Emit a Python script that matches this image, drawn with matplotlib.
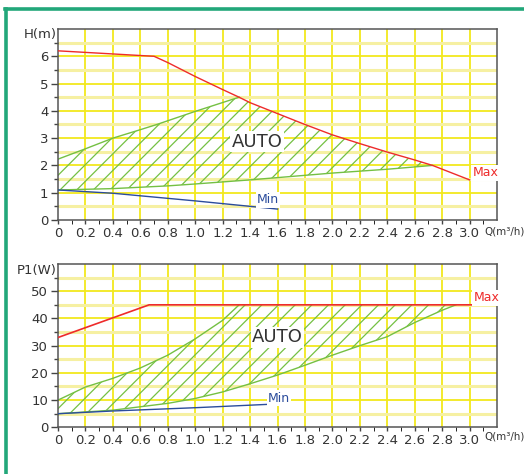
import numpy as np
import matplotlib.pyplot as plt
from matplotlib.lines import Line2D

# ---- data ----
# head curves H(m) vs Q(m3/h)
h_max_q = [0, 0.7, 0.8, 1.0, 1.2, 1.32, 1.4, 1.6, 1.8, 2.0, 2.2, 2.4, 2.6, 2.73, 3.0]
h_max_h = [6.2, 6.0, 5.77, 5.26, 4.78, 4.5, 4.3, 3.9, 3.5, 3.12, 2.8, 2.49, 2.2, 2.0, 1.47]
h_up_q = [0, 0.2, 0.4, 0.6, 0.72, 1.0, 1.32]
h_up_h = [2.23, 2.61, 3.0, 3.31, 3.5, 3.98, 4.5]
h_low_q = [0, 0.4, 0.6, 0.8, 1.0, 1.4, 2.0, 2.4, 2.73]
h_low_h = [1.1, 1.15, 1.2, 1.25, 1.32, 1.47, 1.72, 1.86, 2.0]
h_min_q = [0, 0.4, 1.0, 1.6]
h_min_h = [1.1, 0.98, 0.7, 0.4]

# power curves P1(W) vs Q(m3/h)
p_max_q = [0, 0.664, 3.07]
p_max_p = [33, 45, 45]
p_up_q = [0, 0.2, 0.4, 0.6, 0.8, 1.0, 1.2, 1.32, 2.9]
p_up_p = [10, 14.8, 18, 21.8, 26.5, 32.5, 39.3, 45, 45]
p_low_q = [0, 0.4, 0.8, 1.0, 1.2, 1.4, 1.6, 1.8, 2.0, 2.2, 2.4, 2.6, 2.8, 2.9]
p_low_p = [5, 6.3, 8.8, 10.6, 13, 16, 19.2, 22.8, 26.5, 30, 33.3, 38.5, 43, 45]
p_min_q = [0, 0.4, 1.0, 1.6]
p_min_p = [5, 6, 7.2, 8.6]

x_ticks = [0, 0.2, 0.4, 0.6, 0.8, 1.0, 1.2, 1.4, 1.6, 1.8, 2.0, 2.2, 2.4, 2.6, 2.8, 3.0]
x_labels = ['0', '0.2', '0.4', '0.6', '0.8', '1.0', '1.2', '1.4', '1.6', '1.8',
            '2.0', '2.2', '2.4', '2.6', '2.8', '3.0']

RED = '#ee2b2b'
GREEN = '#74c043'
BLUE = '#2b4c9c'
YEL = '#f2e81c'
PALE = '#f6f0a2'
TXT = '#333333'

plt.rcParams['font.family'] = 'DejaVu Sans'
plt.rcParams['hatch.linewidth'] = 0.9
plt.rcParams['hatch.color'] = GREEN

fig = plt.figure(figsize=(5.24, 4.74), dpi=100)
ax1 = fig.add_axes([0.1107, 0.5359, 0.8378, 0.4029])
ax2 = fig.add_axes([0.1107, 0.0985, 0.8378, 0.3445])


def setup(ax, ymax, ystep, ylabel, ylabel_y):
    ax.set_xlim(0, 3.2)
    ax.set_ylim(0, ymax)
    # grid
    for x in np.arange(0.2, 3.2, 0.2):
        ax.axvline(x, color=YEL, lw=1.3, zorder=0)
    for i, y in enumerate(np.arange(ystep / 2, ymax, ystep / 2)):
        if i % 2 == 0:
            ax.axhline(y, color=PALE, lw=2.2, zorder=0)
        else:
            ax.axhline(y, color=YEL, lw=1.3, zorder=0)
    ax.set_xticks(x_ticks)
    ax.set_xticklabels(x_labels)
    ax.set_xticks(np.arange(0.1, 3.2, 0.2), minor=True)
    yt = np.arange(0, ymax, ystep)
    ax.set_yticks(yt)
    ax.set_yticklabels([str(int(v)) for v in yt])
    ax.set_yticks(np.arange(ystep / 2, ymax, ystep), minor=True)
    ax.tick_params(axis='both', which='major', labelsize=9.5, colors='#444444',
                   labelcolor=TXT, width=1, pad=2)
    ax.tick_params(axis='x', which='both', length=3, direction='out')
    ax.tick_params(axis='y', which='major', length=5)
    ax.tick_params(axis='y', which='minor', length=3, width=1, colors='#444444')
    for s in ax.spines.values():
        s.set_color('#555555')
        s.set_linewidth(1.1)
    ax.text(-0.01, ylabel_y, ylabel, ha='right', va='center', fontsize=9.5, color=TXT)
    ax.text(3.11, -ymax * 0.058, 'Q(m³/h)', ha='left', va='center', fontsize=7.4, color=TXT)


setup(ax1, 7, 1, 'H(m)', 6.8)
setup(ax2, 60, 10, 'P1(W)', 57.6)

wb = dict(facecolor='white', edgecolor='none', pad=1)

# --- head chart ---
mask = [(q > 1.32) and (q <= 2.73) for q in h_max_q]
poly_q = h_up_q + [q for q, m in zip(h_max_q, mask) if m] + h_low_q[::-1]
poly_h = h_up_h + [h for h, m in zip(h_max_h, mask) if m] + h_low_h[::-1]
ax1.fill(poly_q, poly_h, facecolor='none', edgecolor=GREEN, hatch='//', lw=0, zorder=1)
ax1.plot(h_up_q, h_up_h, color=GREEN, lw=1, zorder=2)
ax1.plot(h_low_q, h_low_h, color=GREEN, lw=1, zorder=2)
ax1.plot(h_max_q, h_max_h, color=RED, lw=1, zorder=3)
ax1.plot(h_min_q, h_min_h, color=BLUE, lw=1, zorder=3)
ax1.text(1.45, 2.87, 'AUTO', ha='center', va='center', fontsize=13, color=TXT, bbox=wb, zorder=4)
ax1.text(3.02, 1.73, 'Max', ha='left', va='center', fontsize=9, color=RED, bbox=wb, zorder=4)
ax1.text(1.45, 0.74, 'Min', ha='left', va='center', fontsize=9, color=BLUE, bbox=wb, zorder=4)

# --- power chart ---
ax2.fill(p_up_q + p_low_q[::-1], p_up_p + p_low_p[::-1], facecolor='none',
         edgecolor=GREEN, hatch='//', lw=0, zorder=1)
ax2.plot(p_up_q[:8], p_up_p[:8], color=GREEN, lw=1, zorder=2)
ax2.plot(p_low_q, p_low_p, color=GREEN, lw=1, zorder=2)
ax2.plot(p_max_q, p_max_p, color=RED, lw=1.2, zorder=3)
ax2.plot(p_min_q, p_min_p, color=BLUE, lw=1, zorder=3)
ax2.text(1.6, 33, 'AUTO', ha='center', va='center', fontsize=13, color=TXT, bbox=wb, zorder=4)
ax2.text(3.03, 47.6, 'Max', ha='left', va='center', fontsize=9, color=RED, bbox=wb, zorder=4)
ax2.text(1.53, 10.7, 'Min', ha='left', va='center', fontsize=9, color=BLUE, bbox=wb, zorder=4)

# green frame
fig.add_artist(Line2D([0.0095, 1.0], [0.981, 0.981], color='#22a77a', lw=2.6))
fig.add_artist(Line2D([0.0124, 0.0124], [0.0, 0.981], color='#22a77a', lw=2.6))

fig.savefig('out.png', dpi=100)
